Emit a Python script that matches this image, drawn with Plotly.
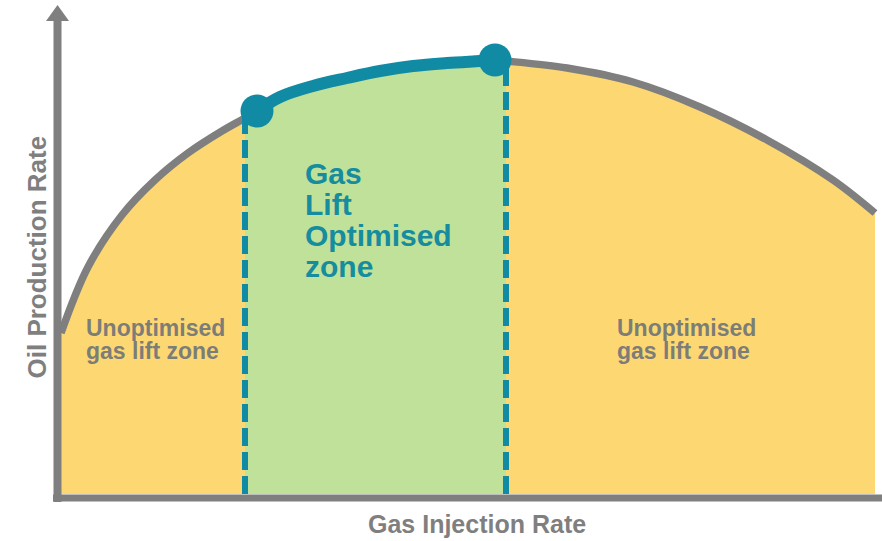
import plotly.graph_objects as go

# ---- data (arbitrary units) ----
gas_injection = [0, 27, 61, 94, 127, 161, 184, 196, 219, 252, 286, 319, 352, 386, 419, 434, 445,
                 506, 572, 639, 706, 772, 814]
oil_production = [161, 227, 279, 314, 341, 363, 376, 383, 397, 408, 416, 423, 428, 431, 433, 434, 433,
                  426, 412, 387, 354, 314, 281]
optimised_zone = [184, 445]      # dashed boundaries of the green zone
optimised_points = [196, 434]    # teal end markers

zone_title = ["Gas", "Lift", "Optimised", "zone"]
side_label = ["Unoptimised", "gas lift zone"]
x_title = "Gas Injection Rate"
y_title = "Oil Production Rate"

# ---- styles ----
GRAY = "#7f7f7f"
TEXT_GRAY = "#7d7d78"
TEAL = "#118aa3"
TEAL_TEXT = "#168c9f"
YELLOW = "#fdd872"
GREEN = "#bfe19a"
FONT = "Liberation Sans"

y_of = dict(zip(gas_injection, oil_production))
zone_x = [x for x in gas_injection if optimised_zone[0] <= x <= optimised_zone[1]]
zone_y = [y_of[x] for x in zone_x]
opt_x = [x for x in gas_injection if optimised_points[0] <= x <= optimised_points[1]]
opt_y = [y_of[x] for x in opt_x]

fig = go.Figure()
# yellow area under the whole curve
fig.add_trace(go.Scatter(x=gas_injection, y=oil_production, mode="lines", fill="tozeroy",
                         fillcolor=YELLOW, line=dict(width=0, shape="spline"), hoverinfo="skip"))
# green optimised area
fig.add_trace(go.Scatter(x=zone_x, y=zone_y, mode="lines", fill="tozeroy",
                         fillcolor=GREEN, line=dict(width=0, shape="spline"), hoverinfo="skip"))
# gray performance curve
fig.add_trace(go.Scatter(x=gas_injection, y=oil_production, mode="lines",
                         line=dict(color=GRAY, width=7.5, shape="spline"), hoverinfo="skip"))
# dashed zone boundaries
for zx in optimised_zone:
    fig.add_trace(go.Scatter(x=[zx, zx], y=[0, y_of[zx]], mode="lines",
                             line=dict(color=TEAL, width=6, dash="18px,6px"), hoverinfo="skip"))
# teal optimised segment
fig.add_trace(go.Scatter(x=opt_x, y=opt_y, mode="lines",
                         line=dict(color=TEAL, width=12, shape="spline"), hoverinfo="skip"))
fig.add_trace(go.Scatter(x=[opt_x[0], opt_x[-1]], y=[opt_y[0], opt_y[-1]], mode="markers",
                         marker=dict(color=TEAL, size=33), hoverinfo="skip"))

# axes drawn as arrow-style lines
shapes = [
    dict(type="line", xref="x", yref="y", x0=-3.5, x1=-3.5, y0=-8, y1=474,
         line=dict(color=GRAY, width=8)),
    dict(type="path", xref="x", yref="y", path="M -15,473 L -3.5,489 L 8,473 Z",
         fillcolor=GRAY, line=dict(color=GRAY, width=0)),
    dict(type="line", xref="x", yref="y", x0=-8, x1=821, y0=-4, y1=-4,
         line=dict(color=GRAY, width=7)),
]

annotations = []
for i, t in enumerate(zone_title):
    annotations.append(dict(x=242, y=320.5 - 31 * i, xref="x", yref="y", text=f"<b>{t}</b>",
                            showarrow=False, xanchor="left", yanchor="middle",
                            font=dict(family=FONT, size=30, color=TEAL_TEXT)))
for left in (23, 554):
    for i, t in enumerate(side_label):
        annotations.append(dict(x=left, y=166 - 22.5 * i, xref="x", yref="y", text=f"<b>{t}</b>",
                                showarrow=False, xanchor="left", yanchor="middle",
                                font=dict(family=FONT, size=23, color=TEXT_GRAY)))
annotations.append(dict(x=415.5, y=-30, xref="x", yref="y", text=f"<b>{x_title}</b>",
                        showarrow=False, xanchor="center", yanchor="middle",
                        font=dict(family=FONT, size=25, color=GRAY)))
annotations.append(dict(x=-24.5, y=237, xref="x", yref="y", text=f"<b>{y_title}</b>",
                        showarrow=False, xanchor="center", yanchor="middle", textangle=-90,
                        font=dict(family=FONT, size=26, color=GRAY)))

fig.update_layout(
    width=882, height=541, margin=dict(l=0, r=0, t=0, b=0),
    paper_bgcolor="white", plot_bgcolor="white", showlegend=False,
    xaxis=dict(range=[-61, 821], visible=False, fixedrange=True),
    yaxis=dict(range=[-47, 494], visible=False, fixedrange=True),
    shapes=shapes, annotations=annotations, hovermode=False,
)
fig.write_html("out.html", config={"displayModeBar": False},
               post_script="document.body.style.margin='0';document.body.style.overflow='hidden';")
